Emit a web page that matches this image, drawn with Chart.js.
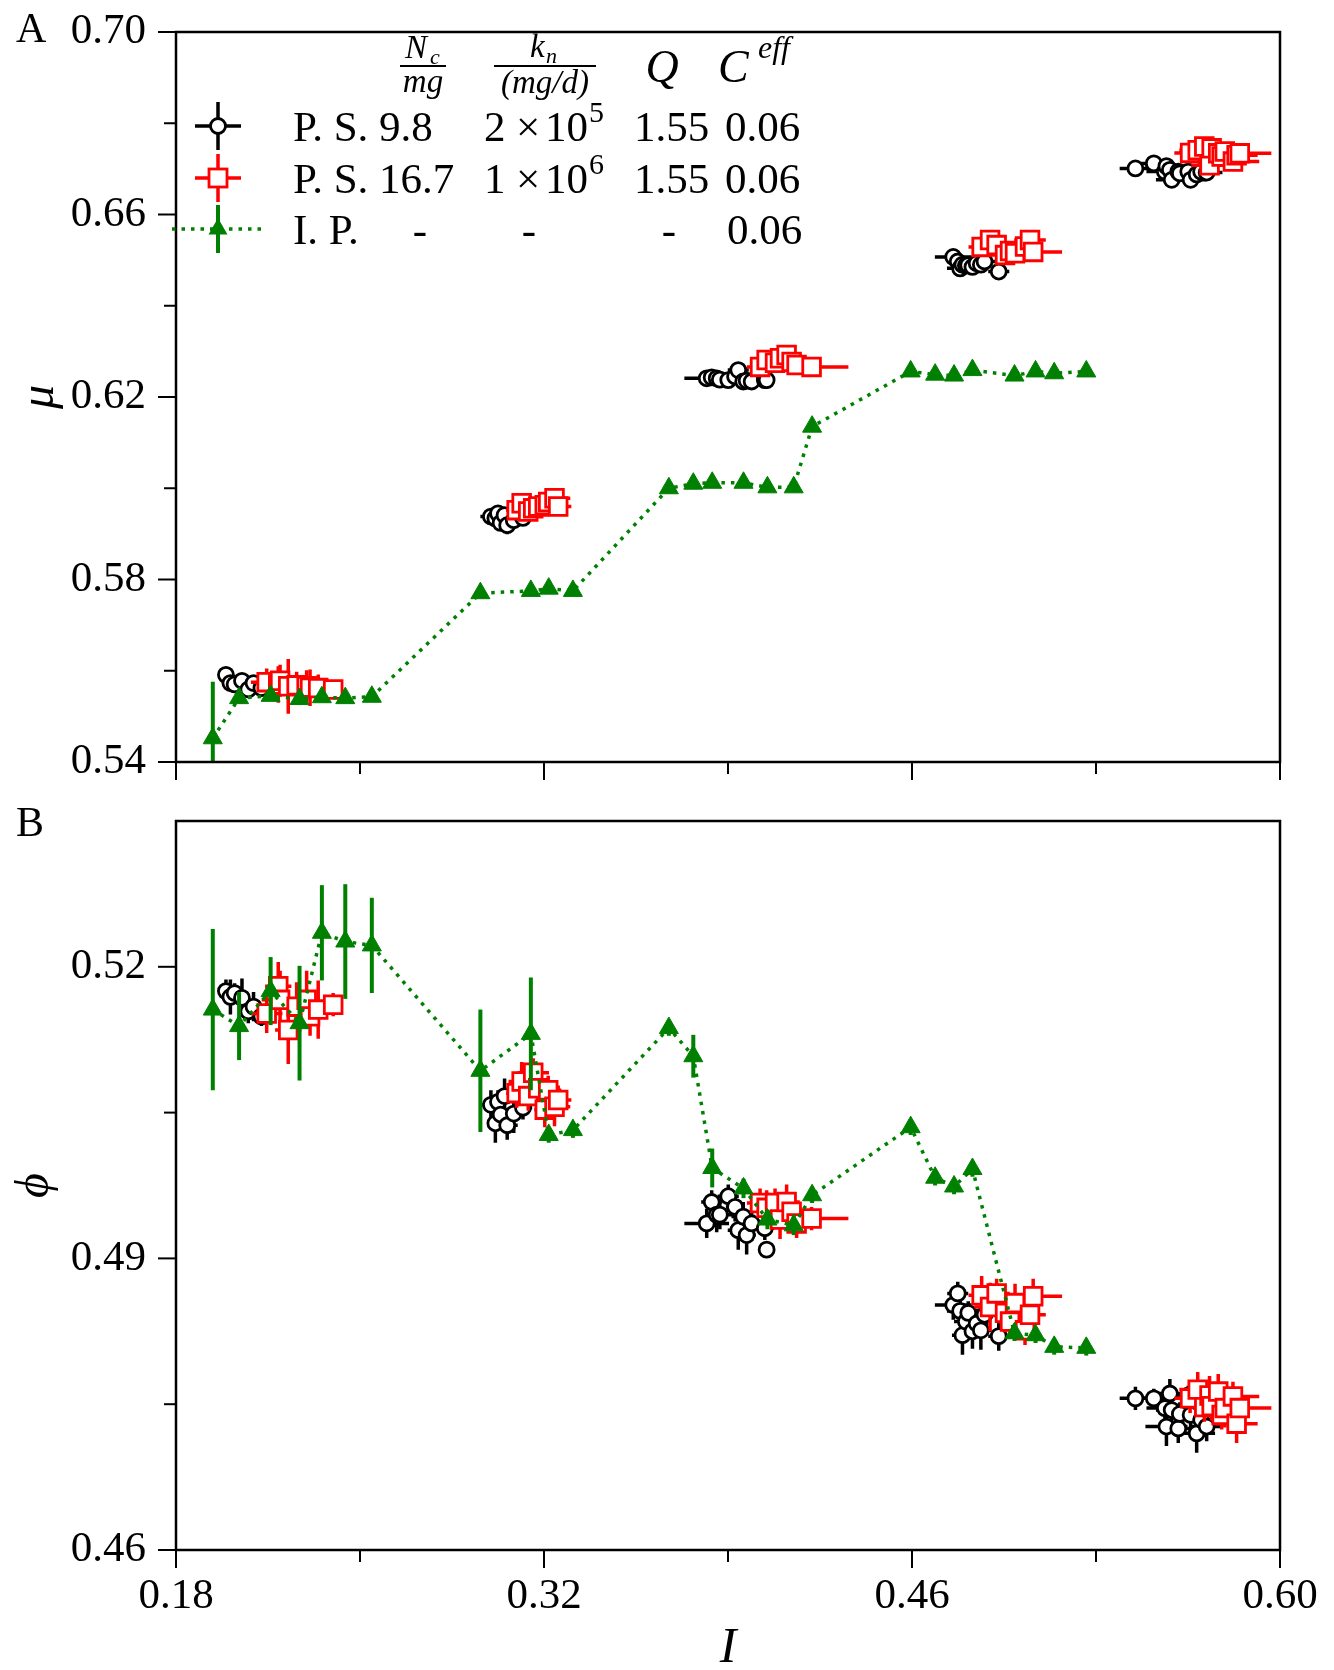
<!DOCTYPE html>
<html>
<head>
<meta charset="utf-8">
<script src="https://cdn.jsdelivr.net/npm/chart.js@4.4.0/dist/chart.umd.min.js"></script>
<style>
  body { margin: 0; background: #fff; }
  #wrap { position: relative; width: 1334px; height: 1670px; }
  canvas { position: absolute; left: 0; }
</style>
</head>
<body>
<div id="wrap">
  <canvas id="muChart" width="1334" height="790" style="top:0px"></canvas>
  <canvas id="phiChart" width="1334" height="880" style="top:790px"></canvas>
</div>
<script>
// ticks (valeurs et graduations étiquetées)
const xTicks = [0.18, 0.25, 0.32, 0.39, 0.46, 0.53, 0.60];
const xMajor = [0.18, 0.32, 0.46, 0.60];
const muTicks = [0.54, 0.56, 0.58, 0.60, 0.62, 0.64, 0.66, 0.68, 0.70];
const muMajor = [0.54, 0.58, 0.62, 0.66, 0.70];
const phiTicks = [0.46, 0.475, 0.49, 0.505, 0.52];
const phiMajor = [0.46, 0.49, 0.52];

// P. S. Nc/mg = 9.8 (cercles noirs), une ligne par groupe de I
const ps98I = [
  0.1990, 0.2007, 0.2023, 0.2051, 0.2075, 0.2095, 0.2125,
  0.2998, 0.3015, 0.3025, 0.3035, 0.3050, 0.3060, 0.3085, 0.3120,
  0.3819, 0.3838, 0.3857, 0.3869, 0.3901, 0.3927, 0.3939, 0.3958, 0.3971, 0.3990, 0.4040, 0.4047,
  0.4757, 0.4774, 0.4783, 0.4792, 0.4805, 0.4814, 0.4830, 0.4846, 0.4862, 0.4876, 0.4930,
  0.5450, 0.5520, 0.5562, 0.5568, 0.5581, 0.5588, 0.5613, 0.5619, 0.5651, 0.5660, 0.5683, 0.5700, 0.5721
];
const ps98IErr = [
  0.0030, 0.0025, 0.0020, 0.0030, 0.0025, 0.0030, 0.0025,
  0.0040, 0.0030, 0.0045, 0.0030, 0.0035, 0.0040, 0.0030, 0.0035,
  0.0085, 0.0040, 0.0035, 0.0050, 0.0040, 0.0035, 0.0040, 0.0045, 0.0035, 0.0040, 0.0035, 0.0000,
  0.0070, 0.0040, 0.0050, 0.0040, 0.0045, 0.0040, 0.0035, 0.0045, 0.0040, 0.0050, 0.0040,
  0.0060, 0.0050, 0.0070, 0.0080, 0.0050, 0.0060, 0.0050, 0.0060, 0.0050, 0.0060, 0.0070, 0.0050, 0.0060
];
const ps98Mu = [
  0.5591, 0.5573, 0.5570, 0.5578, 0.5559, 0.5573, 0.5562,
  0.5938, 0.5934, 0.5945, 0.5924, 0.5941, 0.5919, 0.5930, 0.5935,
  0.6241, 0.6243, 0.6241, 0.6238, 0.6237, 0.6245, 0.6259, 0.6234, 0.6236, 0.6234, 0.6237, 0.6237,
  0.6507, 0.6497, 0.6482, 0.6490, 0.6488, 0.6489, 0.6485, 0.6493, 0.6490, 0.6497, 0.6475,
  0.6701, 0.6712, 0.6694, 0.6706, 0.6698, 0.6676, 0.6694, 0.6690, 0.6694, 0.6676, 0.6688, 0.6694, 0.6692
];
const ps98MuErr = [
  0.0012, 0.0015, 0.0010, 0.0012, 0.0015, 0.0010, 0.0012,
  0.0015, 0.0012, 0.0018, 0.0015, 0.0012, 0.0020, 0.0015, 0.0012,
  0.0012, 0.0010, 0.0012, 0.0010, 0.0015, 0.0012, 0.0015, 0.0012, 0.0010, 0.0012, 0.0010, 0.0012,
  0.0010, 0.0010, 0.0012, 0.0010, 0.0008, 0.0010, 0.0010, 0.0012, 0.0010, 0.0010, 0.0010,
  0.0010, 0.0012, 0.0010, 0.0010, 0.0012, 0.0010, 0.0010, 0.0012, 0.0010, 0.0010, 0.0010, 0.0012, 0.0010
];
const ps98Phi = [
  0.5175, 0.5169, 0.5173, 0.5168, 0.5154, 0.5159, 0.5149,
  0.5058, 0.5039, 0.5061, 0.5048, 0.5067, 0.5037, 0.5049, 0.5055,
  0.4936, 0.4958, 0.4945, 0.4945, 0.4964, 0.4953, 0.4929, 0.4943, 0.4924, 0.4936, 0.4931, 0.4909,
  0.4852, 0.4864, 0.4846, 0.4821, 0.4835, 0.4844, 0.4825, 0.4833, 0.4826, 0.4842, 0.4820,
  0.4756, 0.4756, 0.4746, 0.4727, 0.4761, 0.4744, 0.4725, 0.4740, 0.4759, 0.4739, 0.4720, 0.4734, 0.4727
];
const ps98PhiErr = [
  0.0012, 0.0018, 0.0010, 0.0020, 0.0012, 0.0015, 0.0010,
  0.0015, 0.0020, 0.0012, 0.0015, 0.0018, 0.0015, 0.0020, 0.0012,
  0.0015, 0.0012, 0.0018, 0.0015, 0.0012, 0.0015, 0.0020, 0.0015, 0.0020, 0.0018, 0.0012, 0.0000,
  0.0015, 0.0012, 0.0015, 0.0020, 0.0015, 0.0012, 0.0018, 0.0015, 0.0020, 0.0012, 0.0015,
  0.0012, 0.0010, 0.0012, 0.0020, 0.0015, 0.0012, 0.0015, 0.0012, 0.0010, 0.0015, 0.0020, 0.0012, 0.0015
];

// P. S. Nc/mg = 16.7 (carrés rouges)
const ps167I = [
  0.2145, 0.2189, 0.2196, 0.2227, 0.2259, 0.2297, 0.2310, 0.2341, 0.2398,
  0.3096, 0.3115, 0.3140, 0.3159, 0.3178, 0.3203, 0.3216, 0.3240, 0.3254,
  0.4022, 0.4047, 0.4079, 0.4098, 0.4123, 0.4142, 0.4161, 0.4218,
  0.4865, 0.4897, 0.4922, 0.4954, 0.4973, 0.4992, 0.5030, 0.5049, 0.5061,
  0.5658, 0.5687, 0.5712, 0.5732, 0.5740, 0.5765, 0.5778, 0.5790, 0.5821, 0.5835, 0.5847
];
const ps167IErr = [
  0.0060, 0.0050, 0.0070, 0.0050, 0.0060, 0.0050, 0.0060, 0.0040, 0.0030,
  0.0040, 0.0050, 0.0040, 0.0060, 0.0050, 0.0040, 0.0050, 0.0060, 0.0050,
  0.0050, 0.0060, 0.0050, 0.0060, 0.0050, 0.0060, 0.0050, 0.0140,
  0.0050, 0.0060, 0.0050, 0.0060, 0.0050, 0.0060, 0.0050, 0.0060, 0.0110,
  0.0060, 0.0070, 0.0060, 0.0070, 0.0080, 0.0070, 0.0060, 0.0080, 0.0100, 0.0080, 0.0120
];
const ps167Mu = [
  0.5575, 0.5570, 0.5578, 0.5566, 0.5568, 0.5566, 0.5563, 0.5562, 0.5559,
  0.5952, 0.5967, 0.5949, 0.5956, 0.5960, 0.5963, 0.5970, 0.5978, 0.5960,
  0.6266, 0.6281, 0.6275, 0.6285, 0.6292, 0.6277, 0.6270, 0.6266,
  0.6529, 0.6544, 0.6533, 0.6511, 0.6520, 0.6515, 0.6530, 0.6544, 0.6518,
  0.6735, 0.6741, 0.6749, 0.6708, 0.6745, 0.6734, 0.6727, 0.6738, 0.6716, 0.6730, 0.6734
];
const ps167MuErr = [
  0.0030, 0.0040, 0.0035, 0.0060, 0.0030, 0.0035, 0.0040, 0.0030, 0.0020,
  0.0015, 0.0020, 0.0015, 0.0018, 0.0020, 0.0015, 0.0022, 0.0020, 0.0015,
  0.0015, 0.0018, 0.0020, 0.0015, 0.0015, 0.0018, 0.0015, 0.0012,
  0.0010, 0.0012, 0.0010, 0.0010, 0.0012, 0.0010, 0.0010, 0.0012, 0.0010,
  0.0010, 0.0012, 0.0010, 0.0010, 0.0012, 0.0010, 0.0010, 0.0012, 0.0010, 0.0010, 0.0010
];
const ps167Phi = [
  0.5152, 0.5180, 0.5166, 0.5135, 0.5159, 0.5166, 0.5149, 0.5156, 0.5161,
  0.5070, 0.5082, 0.5067, 0.5091, 0.5075, 0.5053, 0.5073, 0.5056, 0.5063,
  0.4957, 0.4952, 0.4957, 0.4940, 0.4958, 0.4948, 0.4936, 0.4941,
  0.4862, 0.4850, 0.4864, 0.4844, 0.4835, 0.4854, 0.4826, 0.4842, 0.4861,
  0.4756, 0.4765, 0.4747, 0.4759, 0.4748, 0.4763, 0.4739, 0.4746, 0.4758, 0.4730, 0.4746
];
const ps167PhiErr = [
  0.0020, 0.0025, 0.0030, 0.0035, 0.0025, 0.0030, 0.0020, 0.0030, 0.0012,
  0.0015, 0.0020, 0.0015, 0.0015, 0.0020, 0.0018, 0.0015, 0.0020, 0.0015,
  0.0015, 0.0018, 0.0015, 0.0020, 0.0018, 0.0015, 0.0015, 0.0012,
  0.0020, 0.0025, 0.0015, 0.0020, 0.0018, 0.0020, 0.0015, 0.0020, 0.0018,
  0.0015, 0.0018, 0.0015, 0.0020, 0.0015, 0.0018, 0.0015, 0.0020, 0.0015, 0.0020, 0.0015
];

// I. P. (triangles verts, ligne pointillée)
const ipI = [0.1940, 0.2040, 0.2160, 0.2270, 0.2355, 0.2444, 0.2545, 0.2958, 0.3150, 0.3218, 0.3310, 0.3675, 0.3768,
  0.3840, 0.3959, 0.4050, 0.4150, 0.4220, 0.4595, 0.4688, 0.4760, 0.4830, 0.4990, 0.5070, 0.5141, 0.5263];
const ipMu = [0.5452, 0.5540, 0.5545, 0.5538, 0.5542, 0.5540, 0.5543, 0.5770, 0.5775, 0.5780, 0.5775, 0.6000, 0.6010,
  0.6012, 0.6012, 0.6002, 0.6002, 0.6135, 0.6256, 0.6249, 0.6247, 0.6259, 0.6247, 0.6256, 0.6252, 0.6256];
const ipMuErr = [0.0124, 0.0008, 0.0008, 0.0008, 0.0008, 0.0008, 0.0008, 0.0008, 0.0008, 0.0008, 0.0008, 0.0008, 0.0008,
  0.0008, 0.0008, 0.0008, 0.0008, 0.0008, 0.0008, 0.0008, 0.0008, 0.0008, 0.0008, 0.0008, 0.0008, 0.0008];
const ipPhi = [0.5156, 0.5139, 0.5175, 0.5142, 0.5235, 0.5226, 0.5222, 0.5093, 0.5131, 0.5027, 0.5032, 0.5137, 0.5108,
  0.4993, 0.4972, 0.4940, 0.4934, 0.4965, 0.5035, 0.4983, 0.4974, 0.4992, 0.4823, 0.4821, 0.4809, 0.4808];
const ipPhiErr = [0.0083, 0.0035, 0.0035, 0.0059, 0.0049, 0.0059, 0.0049, 0.0063, 0.0058, 0.0008, 0.0008, 0.0008, 0.0022,
  0.0020, 0.0010, 0.0010, 0.0010, 0.0008, 0.0008, 0.0008, 0.0008, 0.0008, 0.0008, 0.0008, 0.0008, 0.0008];

const serif = "'Liberation Serif', 'DejaVu Serif', serif";
Chart.defaults.font.family = serif;
Chart.defaults.color = "#000";

const pts = (xs, ys) => xs.map((x, i) => ({ x: x, y: ys[i] }));
const isMajor = (v, list) => list.some(m => Math.abs(m - v) < 1e-6);

// barres d'erreur, dessinées juste avant chaque jeu de données
const errorBars = {
  id: "errorBars",
  beforeDatasetDraw(chart, args) {
    const ds = chart.data.datasets[args.index];
    if (!ds.errX && !ds.errY) return;
    const ctx = chart.ctx, xs = chart.scales.x, ys = chart.scales.y, a = chart.chartArea;
    ctx.save();
    ctx.beginPath();
    ctx.rect(a.left, a.top, a.right - a.left, a.bottom - a.top);
    ctx.clip();
    ctx.strokeStyle = ds.errColor;
    ctx.lineWidth = ds.errWidth;
    ds.data.forEach((p, i) => {
      const px = xs.getPixelForValue(p.x), py = ys.getPixelForValue(p.y);
      ctx.beginPath();
      if (ds.errX && ds.errX[i]) {
        ctx.moveTo(xs.getPixelForValue(p.x - ds.errX[i]), py);
        ctx.lineTo(xs.getPixelForValue(p.x + ds.errX[i]), py);
      }
      if (ds.errY && ds.errY[i]) {
        ctx.moveTo(px, ys.getPixelForValue(p.y - ds.errY[i]));
        ctx.lineTo(px, ys.getPixelForValue(p.y + ds.errY[i]));
      }
      ctx.stroke();
    });
    ctx.restore();
  }
};

// cadre, graduations (majeures plus longues) et lettre du panneau
const frame = {
  id: "frame",
  afterDraw(chart, args, opts) {
    const ctx = chart.ctx, a = chart.chartArea;
    ctx.save();
    ctx.strokeStyle = "#000";
    ctx.lineWidth = 2;
    ["x", "y"].forEach(id => {
      const s = chart.scales[id];
      const major = opts[id + "Major"];
      s.ticks.forEach(t => {
        const len = isMajor(t.value, major) ? 18 : 12;
        const p = s.getPixelForValue(t.value);
        ctx.beginPath();
        if (id === "x") { ctx.moveTo(p, a.bottom); ctx.lineTo(p, a.bottom + len); }
        else { ctx.moveTo(a.left, p); ctx.lineTo(a.left - len, p); }
        ctx.stroke();
      });
    });
    ctx.lineWidth = 2.5;
    ctx.strokeRect(a.left, a.top, a.right - a.left, a.bottom - a.top);
    ctx.fillStyle = "#000";
    ctx.font = "42px " + serif;
    ctx.textBaseline = "alphabetic";
    ctx.textAlign = "left";
    ctx.fillText(opts.letter, 16, opts.letterY);
    ctx.restore();
  }
};

function legendCross(ctx, x, y, color) {
  ctx.strokeStyle = color;
  ctx.lineWidth = 3.5;
  ctx.setLineDash([]);
  ctx.beginPath();
  ctx.moveTo(x - 23, y); ctx.lineTo(x + 23, y);
  ctx.moveTo(x, y - 24); ctx.lineTo(x, y + 24);
  ctx.stroke();
}

// légende en tableau (en haut à gauche du panneau A)
const tableLegend = {
  id: "tableLegend",
  afterDraw(chart) {
    const ctx = chart.ctx;
    const it = s => "italic " + s + "px " + serif;
    const rm = s => s + "px " + serif;
    ctx.save();
    ctx.fillStyle = "#000";
    ctx.strokeStyle = "#000";
    ctx.textBaseline = "alphabetic";
    ctx.textAlign = "left";

    // en-têtes
    ctx.font = it(33); ctx.fillText("N", 405, 58);
    ctx.font = it(22); ctx.fillText("c", 430, 64);
    ctx.font = it(33); ctx.textAlign = "center"; ctx.fillText("mg", 423, 92);
    ctx.lineWidth = 2.2;
    ctx.beginPath(); ctx.moveTo(400, 66); ctx.lineTo(446, 66); ctx.stroke();

    ctx.textAlign = "left";
    ctx.font = it(33); ctx.fillText("k", 530, 57);
    ctx.font = it(22); ctx.fillText("n", 546, 63);
    ctx.font = it(33); ctx.textAlign = "center"; ctx.fillText("(mg/d)", 545, 93);
    ctx.beginPath(); ctx.moveTo(494, 66); ctx.lineTo(596, 66); ctx.stroke();

    ctx.font = it(46); ctx.fillText("Q", 662, 82);
    ctx.textAlign = "left";
    ctx.fillText("C", 718, 82);
    ctx.font = it(32); ctx.fillText("eff", 758, 58);

    // lignes
    const rows = [126, 178, 229];
    // P. S. 9.8
    legendCross(ctx, 218, rows[0], "#000");
    ctx.fillStyle = "#fff"; ctx.lineWidth = 2.8;
    ctx.beginPath(); ctx.arc(218, rows[0], 7.5, 0, 2 * Math.PI); ctx.fill(); ctx.stroke();
    // P. S. 16.7
    legendCross(ctx, 218, rows[1], "#ff0000");
    ctx.lineWidth = 2.8;
    ctx.fillRect(209, rows[1] - 9, 18, 18); ctx.strokeRect(209, rows[1] - 9, 18, 18);
    // I. P.
    ctx.strokeStyle = "#008000"; ctx.lineWidth = 3.5;
    ctx.setLineDash([3.5, 6]);
    ctx.beginPath(); ctx.moveTo(172, rows[2]); ctx.lineTo(266, rows[2]); ctx.stroke();
    ctx.setLineDash([]);
    ctx.lineWidth = 4;
    ctx.beginPath(); ctx.moveTo(218, rows[2] - 24); ctx.lineTo(218, rows[2] + 24); ctx.stroke();
    ctx.fillStyle = "#008000";
    ctx.beginPath();
    ctx.moveTo(218, rows[2] - 11); ctx.lineTo(218 + 9.5, rows[2] + 5.5); ctx.lineTo(218 - 9.5, rows[2] + 5.5);
    ctx.closePath(); ctx.fill();

    ctx.fillStyle = "#000";
    ctx.textAlign = "left";
    const b = [141, 193, 244];
    ctx.font = rm(43);
    ctx.fillText("P. S. 9.8", 293, b[0]);
    ctx.fillText("P. S. 16.7", 293, b[1]);
    ctx.fillText("I. P.", 293, b[2]);
    ["2", "1"].forEach((d, k) => {
      ctx.fillText(d, 484, b[k]);
      ctx.fillText("\u00d7", 516, b[k]);
      ctx.fillText("10", 545, b[k]);
      ctx.fillText("1.55", 634, b[k]);
      ctx.fillText("0.06", 725, b[k]);
    });
    ctx.fillText("0.06", 727, b[2]);
    ctx.textAlign = "center";
    ctx.fillText("-", 420, b[2]);
    ctx.fillText("-", 529, b[2]);
    ctx.fillText("-", 669, b[2]);
    ctx.textAlign = "left";
    ctx.font = rm(30);
    ctx.fillText("5", 589, b[0] - 19);
    ctx.fillText("6", 589, b[1] - 19);
    ctx.restore();
  }
};

function makeChart(canvasId, c) {
  return new Chart(document.getElementById(canvasId).getContext("2d"), {
    type: "scatter",
    data: {
      datasets: [{
        label: "P. S. 9.8",
        data: pts(ps98I, c.ps98Y),
        errX: ps98IErr, errY: c.ps98Err, errColor: "#000", errWidth: 3.5,
        pointStyle: "circle", pointRadius: 7.5, pointBorderWidth: 2.8,
        pointBackgroundColor: "#fff", pointBorderColor: "#000",
        order: 3,
      }, {
        label: "P. S. 16.7",
        data: pts(ps167I, c.ps167Y),
        errX: ps167IErr, errY: c.ps167Err, errColor: "#ff0000", errWidth: 3.5,
        pointStyle: "rect", pointRadius: 12.5, pointBorderWidth: 2.8,
        pointBackgroundColor: "#fff", pointBorderColor: "#ff0000",
        order: 2,
      }, {
        label: "I. P.",
        data: pts(ipI, c.ipY),
        errY: c.ipErr, errColor: "#008000", errWidth: 4,
        showLine: true, borderColor: "#008000", borderWidth: 3.5, borderDash: [3.5, 6], tension: 0,
        pointStyle: "triangle", pointRadius: 11, pointBorderWidth: 1,
        pointBackgroundColor: "#008000", pointBorderColor: "#008000",
        order: 1,
      }],
    },
    options: {
      responsive: false,
      animation: false,
      devicePixelRatio: 1,
      events: [],
      layout: { autoPadding: false, padding: { top: c.padTop, right: 54, left: 0, bottom: 0 } },
      scales: {
        x: {
          type: "linear",
          min: 0.18,
          max: 0.60,
          afterBuildTicks: s => { s.ticks = xTicks.map(v => ({ value: v })); },
          afterFit: s => {
            s.height = c.xHeight;
            s.paddingLeft = 0; s.paddingRight = 0;
          },
          grid: { display: false, drawTicks: false },
          border: { display: false },
          ticks: {
            display: c.xLabels,
            font: { size: 43 },
            padding: 21,
            maxRotation: 0,
            autoSkip: false,
            callback: v => isMajor(v, xMajor) ? v.toFixed(2) : "",
          },
          title: {
            display: c.xLabels,
            text: "I",
            font: { size: 50, style: "italic", lineHeight: 0.84 },
            padding: 0,
          },
        },
        y: {
          type: "linear",
          min: c.yMin,
          max: c.yMax,
          afterBuildTicks: s => { s.ticks = c.yTicks.map(v => ({ value: v })); },
          afterFit: s => {
            s.width = 176;
            s.paddingTop = 0; s.paddingBottom = 0;
          },
          grid: { display: false, drawTicks: false },
          border: { display: false },
          ticks: {
            font: { size: 43 },
            padding: 30,
            autoSkip: false,
            callback: v => isMajor(v, c.yMajor) ? v.toFixed(2) : "",
          },
          title: {
            display: true,
            text: c.yTitle,
            font: { size: 48, style: "italic" },
            padding: { top: c.yTitlePad, bottom: 0 },
          },
        },
      },
      plugins: {
        legend: { display: false },
        tooltip: { enabled: false },
        frame: { xMajor: xMajor, yMajor: c.yMajor, letter: c.letter, letterY: c.letterY },
      },
    },
    plugins: c.legend ? [errorBars, frame, tableLegend] : [errorBars, frame],
  });
}

const muChart = makeChart("muChart", {
  ps98Y: ps98Mu, ps98Err: ps98MuErr,
  ps167Y: ps167Mu, ps167Err: ps167MuErr,
  ipY: ipMu, ipErr: ipMuErr,
  yMin: 0.54, yMax: 0.70, yTicks: muTicks, yMajor: muMajor,
  yTitle: "\u03bc", yTitlePad: 12,
  padTop: 32, xHeight: 28, xLabels: false,
  letter: "A", letterY: 42, legend: true,
});

const phiChart = makeChart("phiChart", {
  ps98Y: ps98Phi, ps98Err: ps98PhiErr,
  ps167Y: ps167Phi, ps167Err: ps167PhiErr,
  ipY: ipPhi, ipErr: ipPhiErr,
  yMin: 0.46, yMax: 0.535, yTicks: phiTicks, yMajor: phiMajor,
  yTitle: "\u03d5", yTitlePad: 7,
  padTop: 31, xHeight: 120, xLabels: true,
  letter: "B", letterY: 46, legend: false,
});
</script>
</body>
</html>
